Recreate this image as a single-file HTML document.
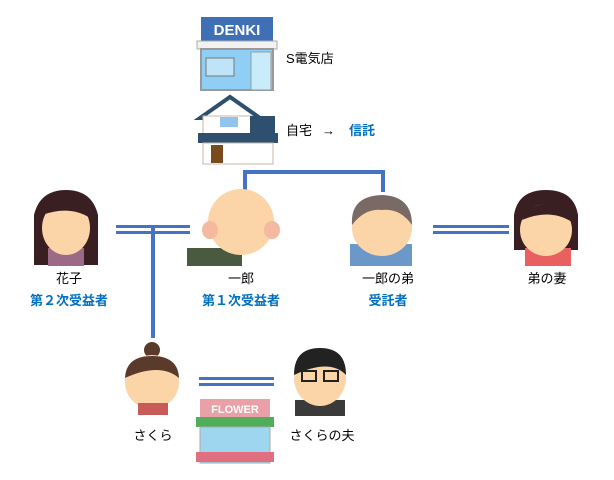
<!DOCTYPE html>
<html><head><meta charset="utf-8"><style>
html,body{margin:0;padding:0;background:#fff;}
svg{display:block}
text{font-family:"Liberation Sans","Noto Sans CJK JP",sans-serif;font-size:13px;}
.b{fill:#0070c0;font-weight:bold}
</style></head><body>
<svg width="614" height="480" viewBox="0 0 614 480">
<!-- shop -->
<rect x="201" y="17" width="72" height="24" fill="#3f6fb5"/>
<text x="237" y="35" text-anchor="middle" fill="#fff" font-weight="bold" style="font-size:15px">DENKI</text>
<rect x="197" y="41" width="80" height="8" fill="#f2f2f2" stroke="#aaa"/>
<rect x="201" y="49" width="72" height="41" fill="#8fcff5" stroke="#999" stroke-width="2"/>
<rect x="251" y="52" width="20" height="38" fill="#c9ecfb" stroke="#999"/>
<rect x="206" y="58" width="28" height="18" fill="#bfe4f7" stroke="#777"/>
<text x="286" y="63">S電気店</text>
<!-- house -->
<polygon points="200,118 230,97 260,118" fill="#fff" stroke="#2f4f6f" stroke-width="4"/>
<rect x="203" y="116" width="50" height="20" fill="#fff" stroke="#c8b8a8"/>
<rect x="250" y="116" width="25" height="20" fill="#2f4f6f"/>
<rect x="198" y="133" width="80" height="10" fill="#2f4f6f"/>
<rect x="203" y="143" width="70" height="21" fill="#fff" stroke="#c8b8a8"/>
<rect x="211" y="145" width="12" height="18" fill="#7a4a1f"/>
<rect x="220" y="117" width="18" height="10" fill="#8fc4ee"/>
<text x="286" y="135">自宅</text>
<text x="322" y="135">→</text>
<text x="349" y="135" class="b">信託</text>
<!-- lines -->
<g fill="#4472c4">
<rect x="243" y="170" width="4" height="22"/><rect x="243" y="170" width="142" height="4"/><rect x="381" y="170" width="4" height="22"/>
<rect x="116" y="225" width="74" height="3"/><rect x="116" y="231" width="74" height="3"/>
<rect x="151" y="228" width="4" height="110"/>
<rect x="433" y="225" width="76" height="3"/><rect x="433" y="231" width="76" height="3"/>
<rect x="199" y="377" width="75" height="3"/><rect x="199" y="383" width="75" height="3"/>
</g>
<!-- faces -->
<g>
<path d="M34,265 L34,215 Q40,190 66,190 Q92,190 98,215 L98,265 Z" fill="#3a1f22"/>
<rect x="48" y="248" width="36" height="18" fill="#9b6a85"/>
<ellipse cx="66" cy="228" rx="24" ry="27" fill="#fbd4a8"/>
<path d="M42,215 Q50,195 80,202 Q88,208 90,218 Q70,205 42,215Z" fill="#3a1f22"/>
<rect x="187" y="248" width="55" height="18" fill="#4a5a40"/>
<ellipse cx="241" cy="222" rx="33" ry="33" fill="#fbd4a8"/>
<ellipse cx="210" cy="230" rx="8" ry="9" fill="#f5b8a0"/>
<ellipse cx="272" cy="230" rx="8" ry="9" fill="#f5b8a0"/>
<rect x="350" y="244" width="62" height="22" fill="#6a98c8"/>
<ellipse cx="382" cy="228" rx="30" ry="28" fill="#fbd4a8"/>
<path d="M352,225 Q350,196 382,195 Q412,196 412,225 Q400,208 382,210 Q365,208 352,225Z" fill="#7a6a66"/>
<path d="M514,250 L514,215 Q518,190 546,190 Q574,190 578,215 L578,250Z" fill="#3a1f22"/>
<rect x="525" y="248" width="46" height="18" fill="#e86060"/>
<ellipse cx="546" cy="230" rx="26" ry="26" fill="#fbd4a8"/>
<path d="M522,220 Q530,198 570,205 Q575,212 572,222 Q550,208 522,220Z" fill="#3a1f22"/>
<circle cx="152" cy="350" r="8" fill="#5a3a2a"/>
<ellipse cx="152" cy="382" rx="27" ry="27" fill="#fbd4a8"/>
<path d="M125,378 Q126,356 152,356 Q178,356 179,378 Q160,362 125,378Z" fill="#5a3a2a"/>
<rect x="138" y="403" width="30" height="12" fill="#c85a5a"/>
<rect x="295" y="400" width="50" height="16" fill="#3a3a3a"/>
<ellipse cx="320" cy="378" rx="26" ry="28" fill="#fbd4a8"/>
<path d="M294,375 Q294,348 320,348 Q346,348 346,375 Q330,358 294,375Z" fill="#222"/>
<rect x="302" y="371" width="14" height="10" fill="none" stroke="#222" stroke-width="2"/>
<rect x="324" y="371" width="14" height="10" fill="none" stroke="#222" stroke-width="2"/>
<rect x="200" y="399" width="70" height="18" fill="#e9a0a6"/>
<text x="235" y="413" text-anchor="middle" fill="#fff" font-weight="bold" style="font-size:11px">FLOWER</text>
<rect x="196" y="417" width="78" height="10" fill="#4fae5a"/>
<rect x="200" y="427" width="70" height="36" fill="#9fd6ef" stroke="#aaa"/>
<rect x="196" y="452" width="78" height="10" fill="#e07080"/>
</g>
<g text-anchor="middle">
<text x="69" y="283">花子</text><text x="69" y="305" class="b">第２次受益者</text>
<text x="241" y="283">一郎</text><text x="241" y="305" class="b">第１次受益者</text>
<text x="388" y="283">一郎の弟</text><text x="388" y="305" class="b">受託者</text>
<text x="547" y="283">弟の妻</text>
<text x="153" y="440">さくら</text>
<text x="322" y="440">さくらの夫</text>
</g>
</svg>
</body></html>
